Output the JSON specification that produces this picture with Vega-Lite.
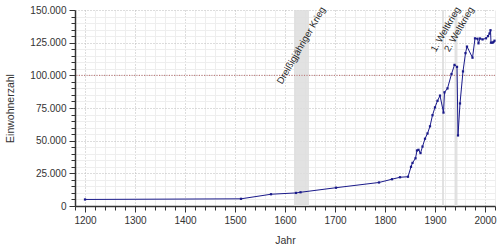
{
  "$schema": "https://vega.github.io/schema/vega-lite/v6.json",
  "autosize": "none",
  "width": 420,
  "height": 196,
  "padding": {"left": 75, "top": 10, "right": 5, "bottom": 44},
  "background": "white",
  "config": {
    "font": "Liberation Sans",
    "view": {"stroke": null},
    "axis": {"labelFont": "Liberation Sans", "titleFont": "Liberation Sans", "labelFontSize": 10, "titleFontSize": 10.5, "titleFontWeight": "normal", "labelColor": "#333", "titleColor": "#333"}
  },
  "datasets": {
    "pop": [
      {"Jahr": 1200, "Einwohner": 5000},
      {"Jahr": 1512, "Einwohner": 5500},
      {"Jahr": 1572, "Einwohner": 9000},
      {"Jahr": 1622, "Einwohner": 10000},
      {"Jahr": 1631, "Einwohner": 10500},
      {"Jahr": 1702, "Einwohner": 14000},
      {"Jahr": 1788, "Einwohner": 18000},
      {"Jahr": 1814, "Einwohner": 20500},
      {"Jahr": 1830, "Einwohner": 22000},
      {"Jahr": 1846, "Einwohner": 22400},
      {"Jahr": 1852, "Einwohner": 30000},
      {"Jahr": 1855, "Einwohner": 33000},
      {"Jahr": 1861, "Einwohner": 36500},
      {"Jahr": 1864, "Einwohner": 42500},
      {"Jahr": 1867, "Einwohner": 43000},
      {"Jahr": 1871, "Einwohner": 40500},
      {"Jahr": 1875, "Einwohner": 45500},
      {"Jahr": 1880, "Einwohner": 51500},
      {"Jahr": 1885, "Einwohner": 55500},
      {"Jahr": 1890, "Einwohner": 61000},
      {"Jahr": 1895, "Einwohner": 69500},
      {"Jahr": 1900, "Einwohner": 75500},
      {"Jahr": 1905, "Einwohner": 80500},
      {"Jahr": 1910, "Einwohner": 84500},
      {"Jahr": 1917, "Einwohner": 71500},
      {"Jahr": 1919, "Einwohner": 87000},
      {"Jahr": 1925, "Einwohner": 90000},
      {"Jahr": 1933, "Einwohner": 101000},
      {"Jahr": 1939, "Einwohner": 108000},
      {"Jahr": 1944, "Einwohner": 106500},
      {"Jahr": 1946, "Einwohner": 54000},
      {"Jahr": 1950, "Einwohner": 78500},
      {"Jahr": 1956, "Einwohner": 103000},
      {"Jahr": 1961, "Einwohner": 117000},
      {"Jahr": 1964, "Einwohner": 122000},
      {"Jahr": 1975, "Einwohner": 113500},
      {"Jahr": 1980, "Einwohner": 128300},
      {"Jahr": 1985, "Einwohner": 128000},
      {"Jahr": 1987, "Einwohner": 124500},
      {"Jahr": 1990, "Einwohner": 128200},
      {"Jahr": 1995, "Einwohner": 127500},
      {"Jahr": 2002, "Einwohner": 128300},
      {"Jahr": 2006, "Einwohner": 130000},
      {"Jahr": 2009, "Einwohner": 132000},
      {"Jahr": 2011, "Einwohner": 134500},
      {"Jahr": 2012, "Einwohner": 125000},
      {"Jahr": 2015, "Einwohner": 125000},
      {"Jahr": 2017, "Einwohner": 125500},
      {"Jahr": 2019, "Einwohner": 126500}
    ],
    "wars": [
      {"start": 1618, "end": 1648, "label": "Dreißigjähriger Krieg"},
      {"start": 1914, "end": 1918, "label": "1. Weltkrieg"},
      {"start": 1939, "end": 1945, "label": "2. Weltkrieg"}
    ],
    "mark100k": [{"wert": 100000}]
  },
  "layer": [
    {
      "data": {"name": "wars"},
      "mark": {"type": "rect", "color": "#dddddd", "opacity": 0.85},
      "encoding": {
        "x": {"field": "start", "type": "quantitative", "scale": {"domain": [1180, 2020], "nice": false, "zero": false}},
        "x2": {"field": "end"}
      }
    },
    {
      "data": {"name": "mark100k"},
      "mark": {"type": "rule", "color": "#b86a6a", "strokeDash": [1, 1.5], "strokeWidth": 1},
      "encoding": {"y": {"field": "wert", "type": "quantitative"}}
    },
    {
      "data": {"name": "pop"},
      "mark": {"type": "line", "color": "#1a1a8a", "strokeWidth": 1, "point": {"shape": "square", "size": 5, "filled": true, "color": "#1a1a8a"}},
      "encoding": {
        "x": {
          "field": "Jahr", "type": "quantitative", "title": "Jahr",
          "scale": {"domain": [1180, 2020], "nice": false, "zero": false},
          "axis": {
            "values": [1180,1200,1220,1240,1260,1280,1300,1320,1340,1360,1380,1400,1420,1440,1460,1480,1500,1520,1540,1560,1580,1600,1620,1640,1660,1680,1700,1720,1740,1760,1780,1800,1820,1840,1860,1880,1900,1920,1940,1960,1980,2000,2020],
            "tickCount": 1000,
            "labelExpr": "datum.value % 100 == 0 ? '' + datum.value : ''",
            "labelOverlap": false,
            "labelFlush": false,
            "domainColor": "#333", "domainWidth": 1.5,
            "tickColor": "#333",
            "tickSize": {"condition": {"test": "datum.value % 100 == 0", "value": 6}, "value": 4},
            "grid": true,
            "gridColor": {"condition": {"test": "datum.value % 100 == 0", "value": "#bbbbbb"}, "value": "#eeeeee"},
            "gridDash": {"condition": {"test": "datum.value % 100 == 0", "value": [1, 2]}, "value": []},
            "labelPadding": 3,
            "titlePadding": 10
          }
        },
        "y": {
          "field": "Einwohner", "type": "quantitative", "title": "Einwohnerzahl",
          "scale": {"domain": [0, 150000], "nice": false},
          "axis": {
            "values": [0,5000,10000,15000,20000,25000,30000,35000,40000,45000,50000,55000,60000,65000,70000,75000,80000,85000,90000,95000,100000,105000,110000,115000,120000,125000,130000,135000,140000,145000,150000],
            "tickCount": 1000,
            "labelExpr": "datum.value % 25000 == 0 ? replace(format(datum.value, ','), ',', '.') : ''",
            "labelOverlap": false,
            "labelFlush": false,
            "domainColor": "#333", "domainWidth": 1.5,
            "tickColor": "#333",
            "tickSize": {"condition": {"test": "datum.value % 25000 == 0", "value": 6}, "value": 4},
            "grid": true,
            "gridColor": {"condition": {"test": "datum.value % 25000 == 0", "value": "#bbbbbb"}, "value": "#eeeeee"},
            "gridDash": {"condition": {"test": "datum.value % 25000 == 0", "value": [1, 2]}, "value": []},
            "labelPadding": 3,
            "titlePadding": 14
          }
        }
      }
    },
    {
      "data": {"name": "wars"},
      "mark": {"type": "text", "angle": -60, "align": "right", "baseline": "bottom", "fontSize": 9.5, "color": "#222", "dx": 9, "dy": 16},
      "encoding": {
        "x": {"field": "end", "type": "quantitative"},
        "y": {"datum": 150000},
        "text": {"field": "label"}
      }
    }
  ]
}
